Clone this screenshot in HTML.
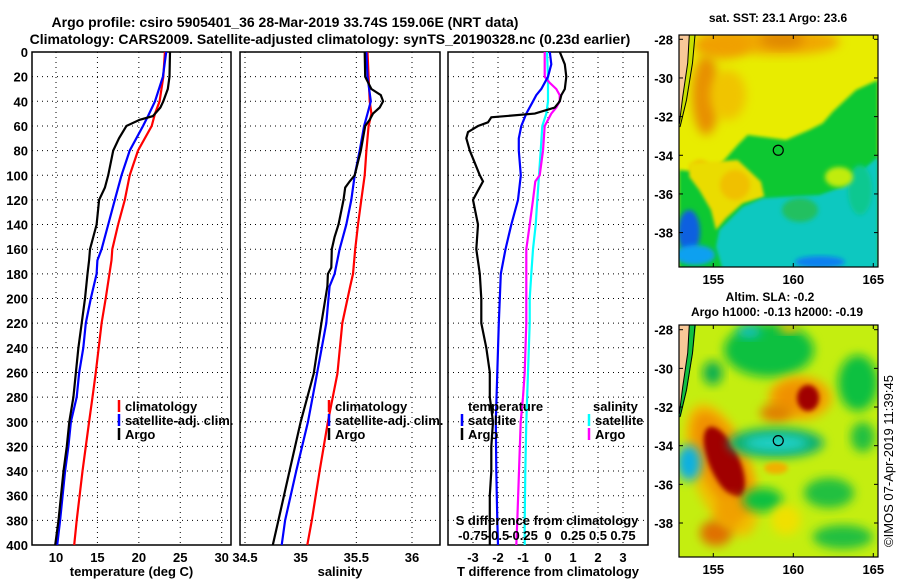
<!DOCTYPE html>
<html><head><meta charset="utf-8"><style>
body{margin:0;background:#fff;}
svg{display:block;font-family:"Liberation Sans",sans-serif;font-weight:bold;}
</style></head><body>
<svg id="c" width="900" height="580" viewBox="0 0 900 580" xmlns="http://www.w3.org/2000/svg">
<defs>
<filter id="bl" x="-30%" y="-30%" width="160%" height="160%"><feGaussianBlur stdDeviation="5"/></filter>
<filter id="bl2" x="-20%" y="-20%" width="140%" height="140%"><feGaussianBlur stdDeviation="2.5"/></filter>
<filter id="bl3" x="-20%" y="-20%" width="140%" height="140%"><feGaussianBlur stdDeviation="1.5"/></filter>
<clipPath id="m1c"><rect x="679" y="35" width="199" height="232"/></clipPath>
<clipPath id="m2c"><rect x="679" y="325" width="199" height="232"/></clipPath>
</defs>
<text x="285" y="27" font-size="14" text-anchor="middle">Argo profile: csiro 5905401_36 28-Mar-2019 33.74S 159.06E (NRT data)</text>
<text x="330" y="44" font-size="14" text-anchor="middle">Climatology: CARS2009. Satellite-adjusted climatology: synTS_20190328.nc (0.23d earlier)</text>
<g id="p1"></g>
<g id="p2"></g>
<g id="p3"></g>
<g id="m1"></g>
<g id="m2"></g>
<text transform="translate(893,547) rotate(-90)" font-size="13" font-weight="normal">©IMOS 07-Apr-2019 11:39:45</text>
</svg>
<script>
// ---- data ----
const tClimDepth=[0,20,40,50,60,80,100,120,140,160,169,200,220,260,280,300,340,380,400];
const tClimVal=[23.15,22.95,22.5,21.95,21.55,19.9,18.9,18.3,17.5,16.8,16.7,16.0,15.5,14.8,14.4,14.0,13.2,12.5,12.2];
const tSatDepth=[0,20,40,52,60,80,100,120,140,160,169,180,200,220,240,260,280,300,320,340,360,380,400];
const tSatVal=[23.3,22.9,21.95,21.1,20.5,18.9,17.9,17.1,16.3,15.5,15.0,14.9,14.2,13.6,13.3,12.8,12.5,11.8,11.5,11.1,10.8,10.5,10.15];
const tArgoDepth=[0,20,30,40,45,52,55,60,70,80,100,110,120,140,150,160,169,180,200,220,240,260,280,300,320,340,360,380,400];
const tArgoVal=[23.76,23.7,23.5,22.95,22.6,21.7,20.1,18.5,17.6,16.9,16.3,15.9,15.2,14.9,14.5,14.1,14.0,13.8,13.5,13.1,12.7,12.4,12.1,11.6,11.3,10.9,10.6,10.3,9.9];
const sClimDepth=[0,40,50,60,80,100,120,140,160,180,190,220,261,300,340,380,400];
const sClimVal=[35.6,35.62,35.635,35.61,35.59,35.575,35.545,35.515,35.49,35.47,35.445,35.374,35.33,35.245,35.17,35.1,35.06];
const sSatDepth=[0,20,40,50,60,80,100,120,140,160,180,190,220,261,300,340,380,400];
const sSatVal=[35.59,35.6,35.63,35.6,35.57,35.53,35.485,35.455,35.41,35.35,35.305,35.26,35.23,35.147,35.066,34.96,34.86,34.83];
const sArgoDepth=[0,20,30,35,40,45,50,55,60,80,100,105,110,120,140,150,160,175,180,190,220,261,300,340,380,400];
const sArgoVal=[35.575,35.58,35.635,35.72,35.74,35.71,35.65,35.62,35.58,35.54,35.485,35.44,35.4,35.385,35.34,35.305,35.28,35.275,35.245,35.24,35.186,35.117,35.0,34.9,34.8,34.75];
const dtSatDepth=[0,10,20,30,35,40,50,60,70,80,100,120,140,160,180,200,220,260,300,340,380,400];
const dtSatVal=[0.07,0.13,0.0,-0.27,-0.47,-0.6,-0.87,-1.07,-1.17,-1.17,-1.09,-1.2,-1.47,-1.7,-1.89,-1.93,-1.97,-2.03,-2.09,-2.07,-2.03,-2.0];
const dtArgoDepth=[0,10,20,30,35,40,45,50,53,57,60,65,70,80,90,100,105,115,120,140,160,180,200,220,240,260,280,300,320,340,360,380,400];
const dtArgoVal=[0.47,0.67,0.73,0.67,0.53,0.47,0.27,-0.53,-2.27,-2.4,-2.8,-3.2,-3.27,-3.13,-2.93,-2.73,-2.6,-2.87,-3.0,-2.8,-2.87,-2.73,-2.67,-2.67,-2.47,-2.33,-2.33,-2.2,-2.27,-2.27,-2.33,-2.33,-2.33];
const dsSatDepth=[0,20,40,50,60,80,100,120,140,160,180,200,220,260,300,340,380,400];
const dsSatVal=[-0.01,0.0,0.0,-0.017,-0.057,-0.073,-0.09,-0.107,-0.123,-0.15,-0.167,-0.183,-0.183,-0.2,-0.217,-0.227,-0.233,-0.233];
const dsArgoDepth=[0,20,25,30,35,40,45,50,55,60,80,100,105,120,140,160,180,200,220,260,280,300,340,380,400];
const dsArgoVal=[-0.033,-0.033,0.017,0.083,0.117,0.117,0.083,0.033,0.0,-0.033,-0.05,-0.083,-0.127,-0.15,-0.183,-0.217,-0.217,-0.217,-0.217,-0.233,-0.25,-0.273,-0.29,-0.307,-0.317];
const depthTicks=[0,20,40,60,80,100,120,140,160,180,200,220,240,260,280,300,320,340,360,380,400];
const tTicks=[10,15,20,25,30];
const sTicks=[34.5,35,35.5,36];
const sTickLabels=["34.5","35","35.5","36"];
const dtTicks=[-3,-2,-1,0,1,2,3];
const dsTicks=[-0.75,-0.5,-0.25,0,0.25,0.5,0.75];
const dsTickLabels=["-0.75","-0.5","-0.25","0","0.25","0.5","0.75"];
const lonTicks=[155,160,165];
const latTicks=[-28,-30,-32,-34,-36,-38];

const NS="http://www.w3.org/2000/svg";
function mk(parent,tag,attrs,txt){const e=document.createElementNS(NS,tag);for(const k in attrs)e.setAttribute(k,attrs[k]);if(txt!==undefined)e.textContent=txt;parent.appendChild(e);return e;}
const Y0=52,Y1=545;
const yD=d=>Y0+d*(Y1-Y0)/400;
const xT=v=>56+(v-10)*(221.7-56)/20;
const xS=v=>245+(v-34.5)*(412-245)/1.5;
const xDT=v=>548+v*25;
const xDS=v=>548+v*100;

function panel(g,x0,x1,vt,scale,labels,ylabels,xlabel){
  const r=mk(g,'rect',{x:x0,y:Y0,width:x1-x0,height:Y1-Y0,fill:'#fff',stroke:'#000','stroke-width':1.5});
  
  depthTicks.forEach(d=>{
    if(d>0&&d<400){const l=mk(g,'line',{x1:x0,x2:x1,y1:yD(d),y2:yD(d),stroke:'#000','stroke-dasharray':'1 4'});
    }
    if(ylabels){const t=mk(g,'text',{x:x0-4,y:yD(d)+5,'font-size':13,'text-anchor':'end'},String(d));
    }
  });
  vt.forEach((v,i)=>{
    const l=mk(g,'line',{x1:scale(v),x2:scale(v),y1:Y0,y2:Y1,stroke:'#000','stroke-dasharray':'1 4'});
    
    const t=mk(g,'text',{x:scale(v),y:562,'font-size':13,'text-anchor':'middle'},labels[i]);
    
  });
  const t=mk(g,'text',{x:(x0+x1)/2,y:576,'font-size':13,'text-anchor':'middle'},xlabel);
  
}
function line(g,ds,vs,scale,col,name){
  const p=ds.map((d,i)=>scale(vs[i]).toFixed(1)+','+yD(d).toFixed(1)).join(' ');
  const e=mk(g,'polyline',{points:p,fill:'none',stroke:col,'stroke-width':2.2});
  
}
function leg(g,x,y,col,txt){
  const l=mk(g,'line',{x1:x,x2:x,y1:y-11,y2:y+1,stroke:col,'stroke-width':2.5});
  
  const t=mk(g,'text',{x:x+6,y:y,'font-size':13},txt);
  
}
const p1=document.getElementById('p1'),p2=document.getElementById('p2'),p3=document.getElementById('p3');
panel(p1,32,231,tTicks,xT,tTicks.map(String),true,'temperature (deg C)');
line(p1,tClimDepth,tClimVal,xT,'#f00','temp-climatology-line');
line(p1,tSatDepth,tSatVal,xT,'#00f','temp-satellite-line');
line(p1,tArgoDepth,tArgoVal,xT,'#000','temp-argo-line');
leg(p1,119,411,'#f00','climatology');leg(p1,119,425,'#00f','satellite-adj. clim.');leg(p1,119,439,'#000','Argo');

panel(p2,240,440,sTicks,xS,sTickLabels,false,'salinity');
line(p2,sClimDepth,sClimVal,xS,'#f00','sal-climatology-line');
line(p2,sSatDepth,sSatVal,xS,'#00f','sal-satellite-line');
line(p2,sArgoDepth,sArgoVal,xS,'#000','sal-argo-line');
leg(p2,329,411,'#f00','climatology');leg(p2,329,425,'#00f','satellite-adj. clim.');leg(p2,329,439,'#000','Argo');

panel(p3,448,648,dtTicks,xDT,dtTicks.map(String),false,'T difference from climatology');
line(p3,dsSatDepth,dsSatVal,xDS,'#0ff','sdiff-satellite-line');
line(p3,dsArgoDepth,dsArgoVal,xDS,'#f0f','sdiff-argo-line');
line(p3,dtSatDepth,dtSatVal,xDT,'#00f','tdiff-satellite-line');
line(p3,dtArgoDepth,dtArgoVal,xDT,'#000','tdiff-argo-line');
{const t=mk(p3,'text',{x:468,y:411,'font-size':13},'temperature');
const t2=mk(p3,'text',{x:593,y:411,'font-size':13},'salinity');}
leg(p3,462,425,'#00f','satellite');leg(p3,462,439,'#000','Argo');
leg(p3,589,425,'#0ff','satellite');leg(p3,589,439,'#f0f','Argo');
{const t=mk(p3,'text',{x:547,y:525,'font-size':13,'text-anchor':'middle'},'S difference from climatology');}
dsTicks.forEach((v,i)=>{const t=mk(p3,'text',{x:xDS(v),y:540,'font-size':13,'text-anchor':'middle'},dsTickLabels[i]);});

// ---- maps ----
const MX0=679,MX1=878;
const xLon=v=>713.3+(v-155)*16;
function mapAxes(g,top,bot,lat28){
  const yLat=v=>lat28+(-28-v)*19.33;
  const r=mk(g,'rect',{x:MX0,y:top,width:MX1-MX0,height:bot-top,fill:'none',stroke:'#000','stroke-width':1.2});
  
  latTicks.forEach(v=>{const y=yLat(v);if(y<top||y>bot)return;
    const t=mk(g,'text',{x:673,y:y+5,'font-size':13,'text-anchor':'end'},String(v));
    mk(g,'line',{x1:MX1-4,x2:MX1,y1:y,y2:y,stroke:'#000'});mk(g,'line',{x1:MX0,x2:MX0+4,y1:y,y2:y,stroke:'#000'});});
  lonTicks.forEach(v=>{const t=mk(g,'text',{x:xLon(v),y:bot+17,'font-size':13,'text-anchor':'middle'},String(v));
    mk(g,'line',{x1:xLon(v),x2:xLon(v),y1:bot-4,y2:bot,stroke:'#000'});mk(g,'line',{x1:xLon(v),x2:xLon(v),y1:top,y2:top+4,stroke:'#000'});});
  const c=mk(g,'circle',{cx:xLon(159.06),cy:yLat(-33.74),r:5,fill:'none',stroke:'#000','stroke-width':1.2});
  
  return yLat;
}
function blob(g,cx,cy,rx,ry,col,rot,f){return mk(g,'ellipse',{cx,cy,rx,ry,fill:col,filter:'url(#'+(f||'bl')+')',transform:'rotate('+(rot||0)+' '+cx+' '+cy+')'});}
function poly(g,pts,col,f){return mk(g,'polygon',{points:pts,fill:col,filter:'url(#'+(f||'bl3')+')'});}
function land(g,top,stripCol){
  const dy=top-35;
  const P=a=>a.map(p=>p[0]+','+(p[1]+dy)).join(' ');
  mk(g,'polygon',{points:P([[692,35],[696,35],[693,63],[687,100],[681,126],[679,128],[679,124],[682.7,97],[687.7,63],[689.3,35]]),fill:stripCol});
  mk(g,'polygon',{points:P([[679,35],[689.3,35],[687.7,63],[682.7,97],[679.3,123]]),fill:'#f8c898'});
  mk(g,'polyline',{points:P([[689.3,35],[687.7,63],[682.7,97],[679.3,124]]),fill:'none',stroke:'#000','stroke-width':1});
  mk(g,'polyline',{points:P([[695,35],[692.5,63],[686.5,100],[680,127]]),fill:'none',stroke:'#000','stroke-width':1});
}
const m1=document.getElementById('m1');
{const t=mk(m1,'text',{x:778,y:22,'font-size':12,'text-anchor':'middle'},'sat. SST: 23.1 Argo: 23.6');}
const g1=mk(m1,'g',{'clip-path':'url(#m1c)'});

mk(g1,'rect',{x:679,y:35,width:199,height:232,fill:'#e8ec00'});
blob(g1,780,42,60,13,'#f0a800');blob(g1,782,40,22,8,'#e08800');blob(g1,722,45,28,14,'#f0a000');
blob(g1,706,95,14,40,'#e89000');blob(g1,728,95,18,25,'#f0c400');blob(g1,700,170,10,10,'#f0c000','0','bl2');
poly(g1,'737.7,145 747.7,135 786,140 809.3,130 822.7,123.3 832.7,111.7 856,90 878,80 878,270 679,270 679,170 712.7,173.3','#10c830');
poly(g1,'689.3,163.3 737.7,160 761,181.7 764.3,196.7 742.7,203.3 726,218.3 716,230 711,210 699.3,190 689.3,176.7','#eadc00');
blob(g1,735,185,15,15,'#f0c000','0','bl2');
poly(g1,'719.3,230 742.7,206.7 762.7,198.3 786,196.7 819.3,195 842.7,186.7 862.7,170 878,156.7 878,270 722.7,270 716,246.7','#10c8c0');
blob(g1,800,210,18,12,'#20c060','0','bl2');blob(g1,860,190,12,25,'#10c890','0','bl2');
blob(g1,839,177,14,10,'#c0ec10','0','bl2');
blob(g1,689,232,11,22,'#1060e0','0','bl2');blob(g1,695,255,20,10,'#10a0f0','0','bl2');
blob(g1,820,262,25,6,'#1080f0','0','bl2');
land(g1,35,'#c8e000');
mapAxes(m1,35,267,39.3);

const m2=document.getElementById('m2');
{const t=mk(m2,'text',{x:770,y:301,'font-size':12,'text-anchor':'middle'},'Altim. SLA: -0.2');
const t2=mk(m2,'text',{x:777,y:316,'font-size':12,'text-anchor':'middle'},'Argo h1000: -0.13 h2000: -0.19');}
const g2=mk(m2,'g',{'clip-path':'url(#m2c)'});

mk(g2,'rect',{x:679,y:325,width:199,height:232,fill:'#c4ee10'});
blob(g2,769,350,45,27,'#10c040');blob(g2,749,332,12,6,'#10c0c0');blob(g2,789,328,10,5,'#f0c000');
blob(g2,712.7,373,10,12,'#10b050');blob(g2,858,383,20,28,'#10c040');
blob(g2,722,470,30,70,'#f0c000',-20);
blob(g2,722.7,463,22,55,'#f09000',-24);blob(g2,724.3,462,15,38,'#a00000',-24,'bl2');
blob(g2,716,533,16,13,'#e07000');blob(g2,730,512,14,16,'#f0a000');
blob(g2,800,398,32,22,'#f0b000');blob(g2,799,397,24,15,'#f09000');blob(g2,776,413,16,9,'#e08000');blob(g2,808,398,11,13,'#a00000','0','bl2');
blob(g2,776,443,48,15,'#10b070');blob(g2,776,443,32,8,'#20d0c8');
blob(g2,689,463,12,18,'#10b0e0');
blob(g2,776,468,12,6,'#f0b000','0','bl2');
blob(g2,762.7,500,20,12,'#10c040');blob(g2,829,493,25,15,'#20c040');blob(g2,862.7,437,12,15,'#20c040');
blob(g2,842.7,537,30,12,'#20c040');blob(g2,786,520,15,15,'#f0e000');
land(g2,325,'#10c040');
mapAxes(m2,325,557,329.7);
</script>
</body></html>
